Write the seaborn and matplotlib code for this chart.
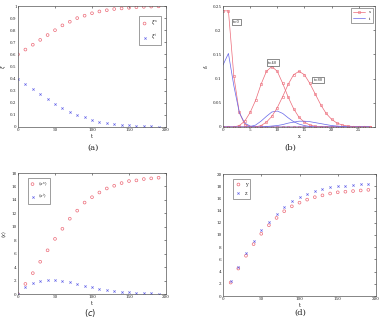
import numpy as np
import pandas as pd
import matplotlib
matplotlib.use("Agg")
import matplotlib.pyplot as plt
import seaborn as sns

# (a) fractions over time
t_a = list(range(0, 200, 10))
xi_s = [0.60, 0.64, 0.68, 0.72, 0.76, 0.80, 0.84, 0.87, 0.90, 0.92,
        0.94, 0.955, 0.965, 0.975, 0.98, 0.985, 0.99, 0.993, 0.995, 0.997]
xi_i = [0.40, 0.355, 0.315, 0.275, 0.235, 0.19, 0.16, 0.125, 0.10, 0.08,
        0.06, 0.045, 0.035, 0.025, 0.02, 0.015, 0.01, 0.007, 0.005, 0.003]

# (b) distributions at t=0, 40, 80
x_b = list(range(0, 28))
red_t0 = [0.24, 0.24, 0.105, 0.03, 0.005, 0.001] + [0.0] * 22
red_t40 = [0, 0, 0, 0.003, 0.012, 0.03, 0.055, 0.088, 0.115, 0.125, 0.115, 0.09, 0.062, 0.038,
           0.02, 0.01, 0.004, 0.0015, 0.0005] + [0.0] * 9
red_t80 = [0, 0, 0, 0, 0, 0, 0, 0.003, 0.01, 0.022, 0.04, 0.063, 0.088, 0.108, 0.115, 0.108,
           0.09, 0.068, 0.046, 0.028, 0.016, 0.008, 0.004, 0.002, 0.001, 0, 0, 0]
blue_t0 = [0.128, 0.152, 0.085, 0.03, 0.008, 0.002] + [0.0] * 22
blue_t40 = [0, 0, 0, 0, 0, 0.001, 0.004, 0.012, 0.022, 0.031, 0.033, 0.028, 0.019, 0.011,
            0.006, 0.003, 0.001] + [0.0] * 11
blue_t80 = [0, 0, 0, 0, 0, 0, 0, 0, 0.001, 0.002, 0.003, 0.005, 0.008, 0.01, 0.012, 0.012,
            0.011, 0.009, 0.007, 0.005, 0.003, 0.002, 0.001, 0, 0, 0, 0, 0]

# (c) mean values
t_c = list(range(0, 200, 10))
mean_s = [0, 1.5, 3.1, 4.8, 6.5, 8.2, 9.7, 11.2, 12.4, 13.6, 14.4, 15.1, 15.7, 16.1,
          16.5, 16.8, 16.9, 17.1, 17.2, 17.3]
mean_i = [0, 1.0, 1.6, 1.9, 2.05, 2.05, 1.95, 1.75, 1.5, 1.25, 1.0, 0.8, 0.6, 0.45,
          0.35, 0.25, 0.18, 0.12, 0.08, 0.05]

# (d) y and z
t_d = list(range(10, 200, 10))
y_d = [2.2, 4.5, 6.6, 8.5, 10.2, 11.6, 12.8, 13.9, 14.7, 15.3, 15.8, 16.2, 16.5,
       16.8, 17.0, 17.1, 17.2, 17.3, 17.4]
z_d = [2.4, 4.8, 7.0, 9.0, 10.8, 12.2, 13.5, 14.6, 15.5, 16.2, 16.8, 17.2, 17.5,
       17.8, 18.0, 18.1, 18.2, 18.3, 18.3]

RED = "#ec6a78"
BLUE = "#6464e8"

sns.set_style("white")
plt.rcParams['font.family'] = ['DejaVu Serif']
plt.rcParams['xtick.direction'] = 'in'
plt.rcParams['ytick.direction'] = 'in'
plt.rcParams['axes.linewidth'] = 0.5
plt.rcParams['axes.edgecolor'] = '#555555'

fig = plt.figure(figsize=(3.8, 3.28), dpi=100)
W, H = 380.0, 328.0

def make_ax(l, r, t, b):
    return fig.add_axes([l / W, 1 - b / H, (r - l) / W, (b - t) / H])

def tidy(ax, xlabel, ylabel, ylab_x):
    ax.tick_params(labelsize=3.0, length=1.5, width=0.4, pad=1, top=True, right=True)
    ax.set_xlabel(xlabel, fontsize=3.5, labelpad=1)
    ax.set_ylabel(ylabel, fontsize=3.5)
    ax.yaxis.set_label_coords(ylab_x, 0.5)
    for s in ax.spines.values():
        s.set_linewidth(0.5)

def leg(ax, **kw):
    lg = ax.legend(frameon=True, fancybox=False, edgecolor='#555555', **kw)
    lg.get_frame().set_linewidth(0.5)

# (a)
ax = make_ax(18, 166, 6, 127)
sns.scatterplot(x=t_a, y=xi_s, ax=ax, marker='o', s=4, facecolors='none', edgecolor=RED,
                linewidth=0.5, label=r'$\xi^s$')
sns.scatterplot(x=t_a, y=xi_i, ax=ax, marker='x', s=2.5, color=BLUE, linewidth=0.5, label=r'$\xi^i$')
ax.set_xlim(0, 200)
ax.set_ylim(0, 1)
ax.set_xticks([0, 50, 100, 150, 200])
ax.set_yticks(np.arange(0, 1.01, 0.1))
ax.set_yticklabels(['0', '0.1', '0.2', '0.3', '0.4', '0.5', '0.6', '0.7', '0.8', '0.9', '1'])
tidy(ax, 't', r'$\xi$', -0.065)
leg(ax, loc='upper right', fontsize=3.5, handlelength=1, borderpad=0.6, labelspacing=0.8,
    bbox_to_anchor=(0.98, 0.94))
fig.text(93 / W, 1 - 148 / H, '(a)', ha='center', va='center', fontsize=6)

# (b)
ax = make_ax(223, 375, 6, 127)
for i, (r, b) in enumerate([(red_t0, blue_t0), (red_t40, blue_t40), (red_t80, blue_t80)]):
    sns.lineplot(x=x_b, y=r, ax=ax, color=RED, marker='o', markersize=1.8, markerfacecolor='none',
                 markeredgecolor=RED, markeredgewidth=0.4, linewidth=0.5,
                 label='s' if i == 0 else None)
    sns.lineplot(x=x_b, y=b, ax=ax, color=BLUE, linewidth=0.5,
                 label='i' if i == 0 else None)
ax.set_xlim(0, 28)
ax.set_ylim(0, 0.25)
ax.set_xticks([0, 5, 10, 15, 20, 25])
ax.set_yticks([0, 0.05, 0.1, 0.15, 0.2, 0.25])
ax.set_yticklabels(['0', '0.05', '0.1', '0.15', '0.2', '0.25'])
tidy(ax, 'x', r'$f_x$', -0.08)
for tx, ty, lab in [(2.5, 0.217, 't=0'), (9.2, 0.133, 't=40'), (17.5, 0.097, 't=80')]:
    ax.text(tx, ty, lab, fontsize=2.6, ha='center', va='center',
            bbox=dict(boxstyle='square,pad=0.4', fc='white', ec='#333333', lw=0.4))
leg(ax, loc='upper right', fontsize=3, handlelength=3, borderpad=0.5, labelspacing=0.6)
fig.text(290 / W, 1 - 148 / H, '(b)', ha='center', va='center', fontsize=6)

# (c)
ax = make_ax(18, 166, 173, 294)
sns.scatterplot(x=t_c, y=mean_s, ax=ax, marker='o', s=4, facecolors='none', edgecolor=RED,
                linewidth=0.5, label=r'$\langle x^s\rangle$')
sns.scatterplot(x=t_c, y=mean_i, ax=ax, marker='x', s=2.5, color=BLUE, linewidth=0.5,
                label=r'$\langle x^i\rangle$')
ax.set_xlim(0, 200)
ax.set_ylim(0, 18)
ax.set_xticks([0, 50, 100, 150, 200])
ax.set_yticks(np.arange(0, 19, 2))
tidy(ax, 't', r'$\langle x\rangle$', -0.065)
leg(ax, loc='upper left', fontsize=3.2, handlelength=1, borderpad=0.6, labelspacing=0.8,
    bbox_to_anchor=(0.05, 0.98))
fig.text(90 / W, 1 - 313 / H, r'$(c)$', ha='center', va='center', fontsize=6)

# (d)
ax = make_ax(223, 376, 174, 296)
sns.scatterplot(x=t_d, y=y_d, ax=ax, marker='o', s=4, facecolors='none', edgecolor=RED,
                linewidth=0.5, label='y')
sns.scatterplot(x=t_d, y=z_d, ax=ax, marker='x', s=2.5, color=BLUE, linewidth=0.5, label='z')
ax.set_xlim(0, 200)
ax.set_ylim(0, 20)
ax.set_xticks([0, 50, 100, 150, 200])
ax.set_yticks(np.arange(0, 21, 2))
tidy(ax, 't', '', -0.06)
leg(ax, loc='upper left', fontsize=3.5, handlelength=1, borderpad=0.6, labelspacing=0.8,
    bbox_to_anchor=(0.05, 0.98))
fig.text(300 / W, 1 - 313 / H, '(d)', ha='center', va='center', fontsize=6)

fig.savefig('out.png', dpi=100)
